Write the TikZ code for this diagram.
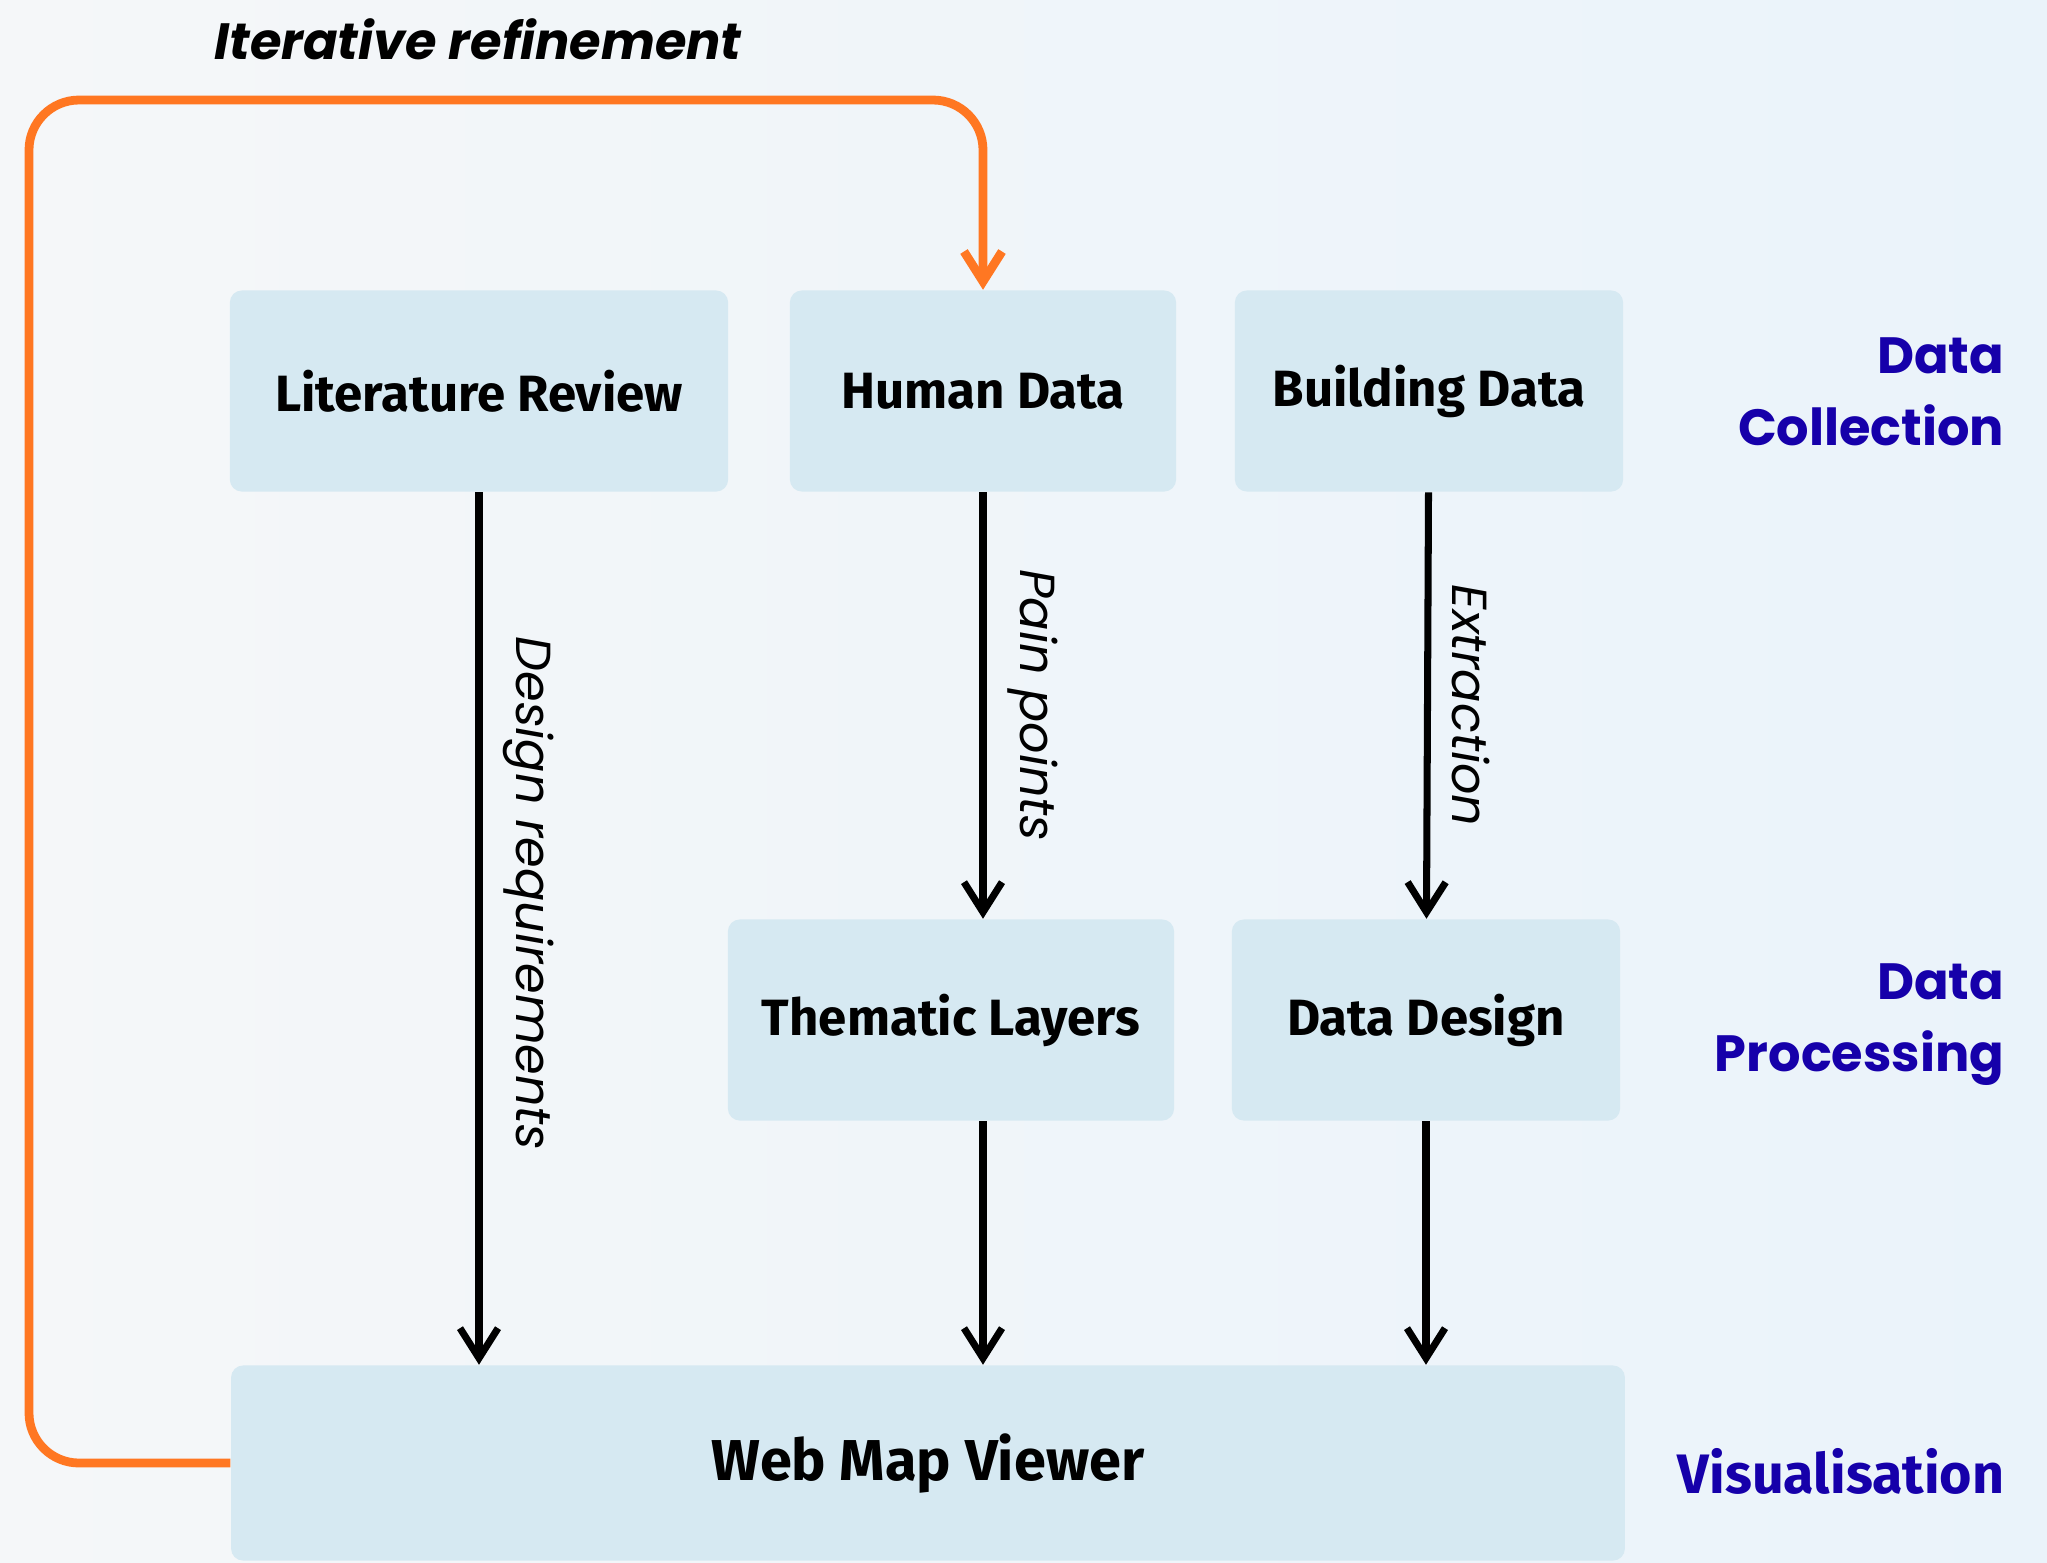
\documentclass[tikz,border=0pt]{standalone}
\usepackage{fontspec}
\setmainfont{Fira Sans}
\newfontfamily\poppins{Poppins}
\usepackage{tikz}
\usetikzlibrary{arrows.meta, positioning, calc}

\definecolor{boxfill}{RGB}{214,233,242}
\definecolor{loopcol}{RGB}{255,119,34}
\definecolor{stagecol}{RGB}{22,0,170}
\definecolor{bgleft}{RGB}{245,247,249}
\definecolor{bgright}{RGB}{234,243,250}

\begin{document}
\begin{tikzpicture}[
    x=0.01cm, y=-0.01cm,
    component/.style={rectangle, rounded corners=0.12cm, fill=boxfill, minimum height=2.01cm, align=center, font=\fontsize{14.5}{17}\selectfont\bfseries},
    arrow/.style={-{Straight Barb[length=0.3cm, width=0.38cm]}, line width=2pt},
    refine/.style={-{Straight Barb[length=0.3cm, width=0.38cm]}, line width=2.5pt, draw=loopcol, rounded corners=0.5cm},
    flowlabel/.style={rotate=-90, anchor=south, inner sep=6pt, font=\poppins\itshape\fontsize{14}{16}\selectfont},
    stage/.style={anchor=east, align=right, inner sep=0pt, text=stagecol, font=\poppins\bfseries\fontsize{14.5}{20.5}\selectfont}
]

% Background
\fill[left color=bgleft, right color=bgright] (0,0) rectangle (2047,1562);
\useasboundingbox (0,0) rectangle (2047,1562);

% Components
\node[component, minimum width=4.98cm] (litreview) at (479,391) {Literature Review};
\node[component, minimum width=3.86cm] (humandata) at (983,391) {Human Data};
\node[component, minimum width=3.88cm] (buildingdata) at (1429,391) {Building Data};
\node[component, minimum width=4.46cm] (thematic) at (951,1020) {Thematic Layers};
\node[component, minimum width=3.88cm] (datadesign) at (1426,1020) {Data Design};
\node[component, minimum width=13.93cm, minimum height=1.95cm, font=\fontsize{16.4}{19}\selectfont\bfseries] (webmap) at (928,1463) {Web Map Viewer};

% Stages
\node[stage] (collection) at (2005,392) {Data\\Collection};
\node[stage] (processing) at (2005,1025) {Data\\Processing};
\node[stage, font=\fontsize{15.8}{19}\selectfont\bfseries] (visual) at (2005,1471) {Visualisation};

% Arrows
\draw[arrow] (litreview) -- node[pos=0.46, flowlabel] {Design requirements} (webmap.north -| litreview);
\draw[arrow] (humandata) -- node[midway, flowlabel] {Pain points} (thematic.north -| humandata);
\draw[arrow] (buildingdata) -- node[midway, flowlabel] {Extraction} (datadesign);
\draw[arrow] (thematic.south -| humandata) -- (webmap.north -| humandata);
\draw[arrow] (datadesign) -- (webmap.north -| datadesign);

% Feedback loop
\coordinate (loopcorner) at (29,100);
\draw[refine] (webmap.west) -| (loopcorner) -| (humandata.north);
\node[font=\poppins\bfseries\itshape\fontsize{14.5}{18}\selectfont] (iterlabel) at (478,39) {Iterative refinement};

\end{tikzpicture}
\end{document}
